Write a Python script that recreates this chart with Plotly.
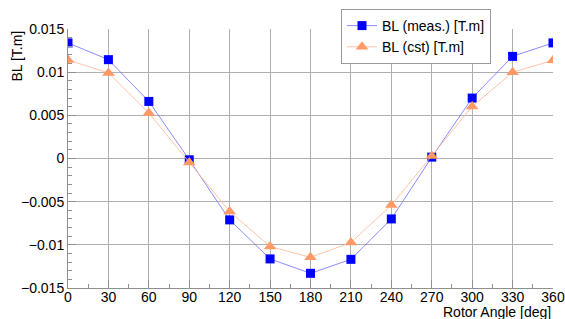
import plotly.graph_objects as go

angles = [0, 30, 60, 90, 120, 150, 180, 210, 240, 270, 300, 330, 360]
bl_meas = [0.01339, 0.01145, 0.00661, -0.00015, -0.00711, -0.01163, -0.01330,
           -0.01168, -0.00700, 0.00016, 0.00700, 0.01183, 0.01339]
bl_cst = [0.01141, 0.00991, 0.00527, -0.00046, -0.00615, -0.01020, -0.01144,
          -0.00974, -0.00540, 0.00030, 0.00603, 0.00998, 0.01137]

x_ticks = [0, 30, 60, 90, 120, 150, 180, 210, 240, 270, 300, 330, 360]
y_ticks = [-0.015, -0.01, -0.005, 0, 0.005, 0.01, 0.015]
y_tick_labels = ["\u22120.015", "\u22120.01", "\u22120.005", "0", "0.005", "0.01", "0.015"]

font = "Liberation Sans, Arial, sans-serif"

fig = go.Figure()
fig.add_trace(go.Scatter(
    x=angles, y=bl_meas, mode="lines+markers", name="BL (meas.) [T.m]",
    line=dict(color="rgba(110,110,255,0.8)", width=1),
    marker=dict(symbol="square", size=9, color="#0000ff"),
))
fig.add_trace(go.Scatter(
    x=angles, y=bl_cst, mode="lines+markers", name="BL (cst) [T.m]",
    line=dict(color="rgba(255,190,160,0.9)", width=1),
    marker=dict(symbol="triangle-up", size=11, color="#ff9966"),
))

fig.update_layout(
    width=565, height=319,
    margin=dict(l=68, r=12, t=29, b=31, autoexpand=False),
    paper_bgcolor="white", plot_bgcolor="white",
    font=dict(family=font, size=14, color="black"),
    showlegend=True,
    legend=dict(
        xref="container", yref="container",
        x=341 / 565, y=1 - 9 / 319, xanchor="left", yanchor="top",
        bgcolor="white", bordercolor="#999999", borderwidth=1,
        font=dict(size=14), tracegroupgap=0,
    ),
    annotations=[
        dict(text="BL [T.m]", xref="paper", yref="paper", x=-0.107, y=1.0,
             xanchor="center", yanchor="top", textangle=-90, showarrow=False,
             font=dict(size=14)),
        dict(text="Rotor Angle [deg]", xref="paper", yref="paper", x=1.0, y=-0.131,
             xanchor="right", yanchor="bottom", showarrow=False,
             font=dict(size=14)),
    ],
)

fig.update_xaxes(
    range=[0, 360], tickvals=x_ticks, ticktext=[str(v) for v in x_ticks],
    showgrid=True, gridcolor="#b0b0b0", gridwidth=1,
    showline=True, linecolor="#909090", linewidth=1,
    ticks="inside", ticklen=8, tickcolor="#909090",
    minor=dict(dtick=15, ticks="inside", ticklen=4, tickcolor="#909090", showgrid=False),
    zeroline=False, tickfont=dict(size=14), automargin=False,
    ticklabelstandoff=-4,
)
fig.update_yaxes(
    range=[-0.015, 0.015], tickvals=y_ticks, ticktext=y_tick_labels,
    showgrid=True, gridcolor="#b0b0b0", gridwidth=1,
    showline=True, linecolor="#909090", linewidth=1,
    ticks="inside", ticklen=8, tickcolor="#909090",
    minor=dict(dtick=0.001, tick0=0, ticks="inside", ticklen=4, tickcolor="#909090", showgrid=False),
    zeroline=False, tickfont=dict(size=14), automargin=False,
)

fig.write_html(
    "out.html",
    config={"displayModeBar": False},
    post_script="document.body.style.margin='0';document.body.style.overflow='hidden';",
)
